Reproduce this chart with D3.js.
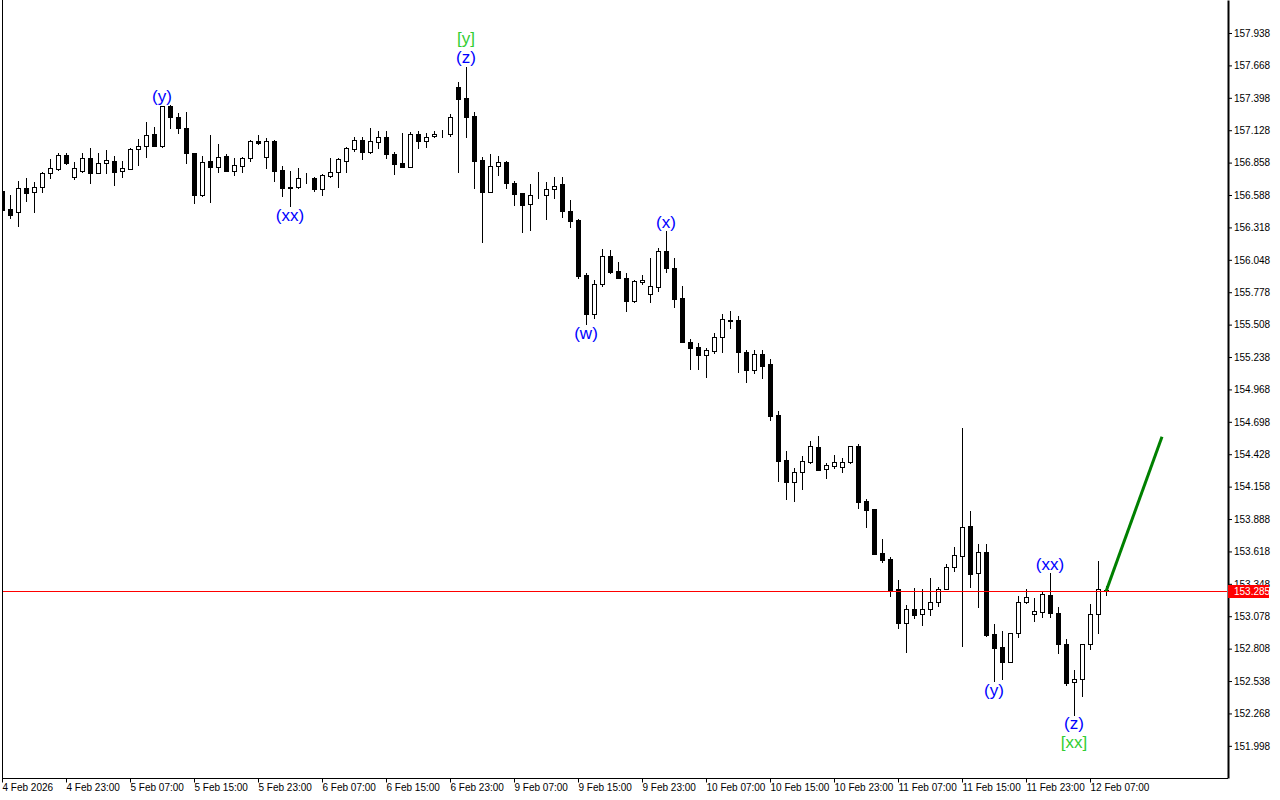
<!DOCTYPE html>
<html>
<head>
<meta charset="utf-8">
<script src="https://cdn.jsdelivr.net/npm/d3@7"></script>
<style>
  body { margin: 0; background: #fff; }
  svg text { font-family: "Liberation Sans", Arial, sans-serif; }
</style>
</head>
<body>
<script>

// hourly candles, 4 Feb 15:00 -> 12 Feb 08:00
var opens = [
  156.621,156.471,156.446,156.646,156.613,156.655,156.771,156.805,156.921,156.738,
  156.788,156.896,156.771,156.855,156.871,156.788,156.805,156.971,156.996,157.096,
  156.996,157.330,157.238,157.146,156.938,156.588,156.871,156.821,156.913,156.788,
  156.830,156.896,157.038,156.905,157.038,156.796,156.655,156.655,156.730,156.730,
  156.638,156.746,156.780,156.871,156.971,157.046,156.946,157.030,157.071,156.930,
  156.855,156.821,157.096,157.038,157.080,157.096,157.096,157.488,157.396,157.246,
  156.880,156.613,156.830,156.863,156.688,156.605,156.513,156.588,156.588,156.638,
  156.680,156.455,156.380,155.921,155.596,155.846,156.080,155.955,155.896,155.705,
  155.863,155.763,155.821,156.121,155.980,155.730,155.363,155.321,155.255,155.288,
  155.405,155.546,155.546,155.280,155.130,155.263,155.180,154.755,154.380,154.196,
  154.280,154.363,154.488,154.305,154.330,154.321,154.363,154.496,154.038,153.971,
  153.605,153.555,153.305,153.021,153.138,153.096,153.138,153.196,153.305,153.488,
  153.580,153.830,153.438,153.613,152.930,152.821,152.696,152.938,153.196,153.096,
  153.113,153.255,153.105,152.846,152.530,152.555,152.846,153.096,153.300
];
var highs = [
  156.638,156.588,156.705,156.730,156.696,156.780,156.888,156.938,156.938,156.863,
  156.938,156.980,156.938,156.963,156.913,156.871,156.980,157.055,157.196,157.155,
  157.330,157.340,157.271,157.280,156.938,156.913,157.088,157.013,156.930,156.896,
  156.905,157.046,157.088,157.063,157.046,156.830,156.788,156.813,156.771,156.738,
  156.763,156.896,156.896,156.988,157.071,157.071,157.146,157.121,157.121,156.946,
  157.105,157.113,157.121,157.105,157.121,157.130,157.263,157.530,157.655,157.280,
  156.905,156.930,156.913,156.871,156.705,156.605,156.680,156.780,156.696,156.738,
  156.738,156.546,156.388,155.938,155.880,156.138,156.130,156.030,155.938,155.880,
  155.921,156.063,156.146,156.288,156.063,155.830,155.388,155.355,155.313,155.438,
  155.596,155.621,155.580,155.296,155.296,155.296,155.221,154.788,154.455,154.313,
  154.413,154.538,154.580,154.355,154.421,154.396,154.496,154.513,154.055,153.971,
  153.721,153.571,153.380,153.171,153.313,153.305,153.396,153.321,153.513,153.655,
  154.646,153.955,153.680,153.680,153.013,152.955,152.938,153.246,153.305,153.230,
  153.280,153.438,153.155,152.888,152.630,152.846,153.180,153.538,153.330
];
var lows = [
  156.430,156.396,156.330,156.538,156.446,156.613,156.730,156.796,156.846,156.721,
  156.780,156.688,156.771,156.771,156.671,156.738,156.805,156.838,156.905,156.996,
  156.988,157.146,157.105,156.855,156.521,156.580,156.530,156.780,156.788,156.755,
  156.780,156.871,157.013,156.813,156.705,156.580,156.496,156.646,156.688,156.621,
  156.588,156.738,156.655,156.780,156.955,156.888,156.938,156.980,156.896,156.763,
  156.821,156.821,156.980,156.988,157.071,157.071,157.080,156.780,157.071,156.646,
  156.196,156.613,156.755,156.646,156.505,156.280,156.296,156.563,156.388,156.563,
  156.405,156.321,155.896,155.513,155.563,155.830,155.938,155.896,155.621,155.696,
  155.846,155.696,155.788,155.946,155.655,155.363,155.138,155.138,155.071,155.271,
  155.280,155.480,155.113,155.030,155.105,155.063,154.713,154.205,154.055,154.038,
  154.138,154.355,154.296,154.230,154.313,154.280,154.355,153.980,153.821,153.596,
  153.530,153.246,152.980,152.780,153.063,153.005,153.088,153.163,153.305,153.455,
  152.830,153.321,153.155,152.913,152.538,152.555,152.696,152.905,153.188,153.038,
  153.071,153.071,152.771,152.505,152.255,152.413,152.805,152.938,153.255
];
var closes = [
  156.463,156.421,156.646,156.605,156.655,156.771,156.813,156.921,156.855,156.813,
  156.896,156.771,156.855,156.880,156.780,156.813,156.971,156.996,157.088,156.996,
  157.330,157.238,157.146,156.938,156.588,156.863,156.821,156.905,156.788,156.838,
  156.896,157.038,157.021,157.038,156.788,156.646,156.646,156.730,156.733,156.638,
  156.755,156.780,156.888,156.980,157.046,156.946,157.038,157.071,156.930,156.846,
  156.821,157.096,157.038,157.071,157.096,157.096,157.238,157.388,157.238,156.871,
  156.613,156.830,156.863,156.688,156.596,156.505,156.588,156.588,156.638,156.663,
  156.455,156.371,155.913,155.596,155.846,156.080,155.946,155.896,155.705,155.871,
  155.880,155.830,156.121,155.980,155.721,155.363,155.313,155.255,155.296,155.405,
  155.555,155.538,155.280,155.130,155.263,155.163,154.746,154.371,154.196,154.280,
  154.371,154.496,154.296,154.338,154.363,154.363,154.496,154.030,153.963,153.596,
  153.546,153.296,153.021,153.138,153.088,153.138,153.196,153.305,153.488,153.588,
  153.821,153.430,153.613,152.921,152.813,152.696,152.938,153.196,153.238,153.121,
  153.263,153.105,152.846,152.521,152.555,152.846,153.096,153.305,153.285
];

// time axis labels (every 8th bar)
var xLabelIdx = [0,8,16,24,32,40,48,56,64,72,80,88,96,104,112,120,128,136];
var xLabels = ["4 Feb 2026","4 Feb 23:00","5 Feb 07:00","5 Feb 15:00","5 Feb 23:00",
  "6 Feb 07:00","6 Feb 15:00","6 Feb 23:00","9 Feb 07:00","9 Feb 15:00","9 Feb 23:00",
  "10 Feb 07:00","10 Feb 15:00","10 Feb 23:00","11 Feb 07:00","11 Feb 15:00",
  "11 Feb 23:00","12 Feb 07:00"];

// price axis labels
var yTicks = [157.938,157.668,157.398,157.128,156.858,156.588,156.318,156.048,155.778,
  155.508,155.238,154.968,154.698,154.428,154.158,153.888,153.618,153.348,153.078,
  152.808,152.538,152.268,151.998];

var currentPrice = 153.285;

// wave marks: bar index, text, level (<0 above high, >0 below low), colour
var waveIdx   = [20, 58, 58, 36, 83, 73, 131, 124, 134, 134];
var waveText  = ["(y)","[y]","(z)","(xx)","(x)","(w)","(xx)","(y)","(z)","[xx]"];
var waveLevel = [-1, -2, -1, 1, -1, 1, -1, 1, 1, 2];
var waveColor = ["#0000ff","#32cd32","#0000ff","#0000ff","#0000ff","#0000ff","#0000ff","#0000ff","#0000ff","#32cd32"];

// projection line
var projIdx = [138, 145];
var projPrice = [153.285, 154.574];

var width = 1280, height = 800;
var plotLeft = 2, plotRight = 1227, plotBottom = 778;

var svg = d3.select("body").append("svg")
    .attr("width", width)
    .attr("height", height);

svg.append("rect").attr("width", width).attr("height", height).attr("fill", "#fff");

// scales
var x = d3.scaleLinear()
    .domain([0, (plotRight - plotLeft) / 8])
    .range([plotLeft, plotRight]);

var y = d3.scaleLinear()
    .domain([151.730, 158.213])
    .range([plotBottom, 0]);

svg.append("clipPath").attr("id", "plot")
  .append("rect")
    .attr("x", plotLeft).attr("y", 0)
    .attr("width", plotRight - plotLeft).attr("height", plotBottom);

var plot = svg.append("g").attr("clip-path", "url(#plot)");

var bars = d3.range(opens.length);

// wicks
plot.selectAll("line.wick").data(bars).enter().append("line")
    .attr("class", "wick")
    .attr("x1", function(i){ return Math.round(x(i)) + 0.5; })
    .attr("x2", function(i){ return Math.round(x(i)) + 0.5; })
    .attr("y1", function(i){ return Math.round(y(highs[i])); })
    .attr("y2", function(i){ return Math.round(y(lows[i])) + 1; })
    .attr("stroke", "#000")
    .attr("stroke-width", 1);

// bodies
plot.selectAll("rect.body").data(bars).enter().append("rect")
    .attr("class", "body")
    .attr("x", function(i){ return Math.round(x(i)) - 1.5; })
    .attr("width", 4)
    .attr("y", function(i){ return Math.round(y(Math.max(opens[i], closes[i]))) + 0.5; })
    .attr("height", function(i){
      return Math.max(0, Math.round(y(Math.min(opens[i], closes[i]))) - Math.round(y(Math.max(opens[i], closes[i]))));
    })
    .attr("fill", function(i){ return closes[i] >= opens[i] ? "#fff" : "#000"; })
    .attr("stroke", "#000")
    .attr("stroke-width", 1);

// current price line, a 1px filled strip
svg.append("rect")
    .attr("x", plotLeft).attr("width", plotRight - plotLeft)
    .attr("y", Math.round(y(currentPrice)))
    .attr("height", 1)
    .attr("fill", "#ff0000");

// projection
plot.append("line")
    .attr("x1", x(projIdx[0])).attr("y1", y(projPrice[0]))
    .attr("x2", x(projIdx[1])).attr("y2", y(projPrice[1]))
    .attr("stroke", "#008000")
    .attr("stroke-width", 3);

// wave labels
plot.selectAll("text.wave").data(waveIdx).enter().append("text")
    .attr("class", "wave")
    .attr("x", function(d){ return x(d); })
    .attr("y", function(d, k){
      var lv = waveLevel[k];
      if (lv < 0) return y(highs[d]) - 9 - (-lv - 1) * 19;
      return y(lows[d]) + 9 + (lv - 1) * 19;
    })
    .attr("text-anchor", "middle")
    .attr("dominant-baseline", "central")
    .attr("font-size", "17px")
    .attr("fill", function(d, k){ return waveColor[k]; })
    .text(function(d, k){ return waveText[k]; });

// frame
svg.append("line").attr("x1", plotLeft + 0.5).attr("x2", plotLeft + 0.5)
    .attr("y1", 0).attr("y2", plotBottom).attr("stroke", "#000");

// price axis
var yAxis = svg.append("g")
    .attr("transform", "translate(" + (plotRight + 1) + ",0)")
    .call(d3.axisRight(y).tickValues(yTicks).tickSize(4).tickSizeOuter(0).tickFormat(d3.format(".3f")));
yAxis.select(".domain").attr("stroke-width", 2);
yAxis.selectAll("text").attr("font-size", "10px").attr("fill", "#000").attr("x", 6)
    .attr("font-family", "'Liberation Sans', Arial, sans-serif");

// time axis
var xAxis = svg.append("g")
    .attr("transform", "translate(0," + (plotBottom + 0.5) + ")")
    .call(d3.axisBottom(x).tickValues(xLabelIdx).tickSize(4).tickSizeOuter(0)
      .tickFormat(function(d, k){ return xLabels[k]; }));
xAxis.select(".domain").attr("d", "M" + plotLeft + ",0H" + (plotRight + 1));
xAxis.selectAll("text").attr("font-size", "10px").attr("fill", "#000")
    .attr("text-anchor", "start").attr("x", 0).attr("y", 5)
    .attr("font-family", "'Liberation Sans', Arial, sans-serif");

// current price tag, covers the nearby axis label
var tagY = Math.round(y(currentPrice));
svg.append("rect")
    .attr("x", plotRight + 1).attr("y", tagY - 6)
    .attr("width", 41).attr("height", 13)
    .attr("fill", "#ff0000");
svg.append("text")
    .attr("x", plotRight + 7).attr("y", tagY + 0.5)
    .attr("dominant-baseline", "central")
    .attr("font-size", "10px")
    .attr("fill", "#fff")
    .text(d3.format(".3f")(currentPrice));

</script>
</body>
</html>
